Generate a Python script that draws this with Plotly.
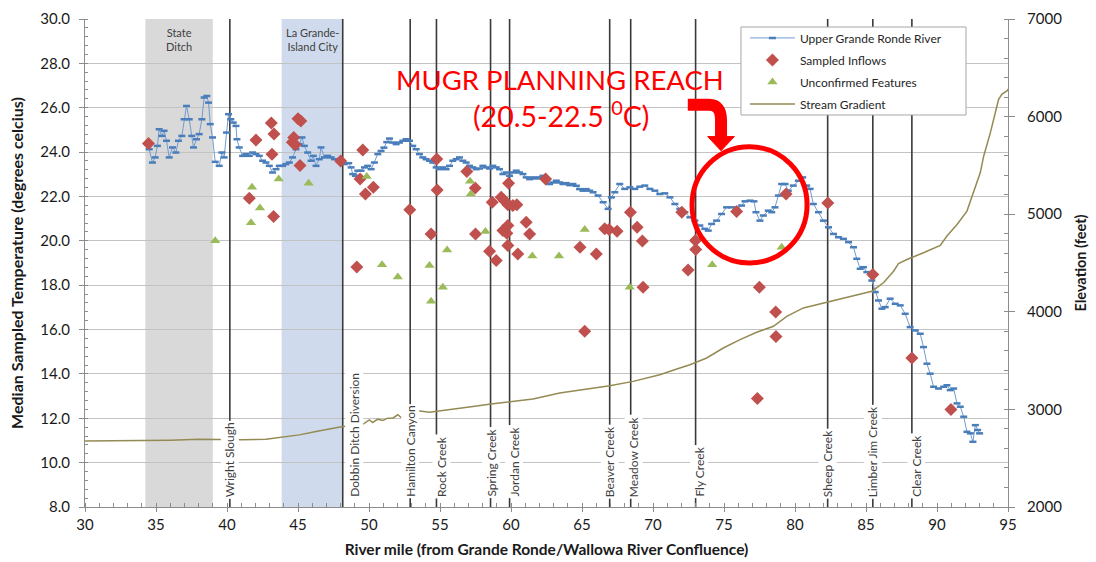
import plotly.graph_objects as go

# ---------------- data ----------------
river_mile = [34.52, 34.75, 34.94, 35.10, 35.22, 35.41, 35.57, 35.74, 35.93, 36.16, 36.40, 36.58, 36.82, 36.98,
              37.15, 37.34, 37.52, 37.64, 37.85, 38.04, 38.23, 38.39, 38.58, 38.70, 38.82, 38.98, 39.17, 39.45,
              39.64, 39.80, 39.97, 40.11, 40.27, 40.44, 40.63, 40.70, 40.86, 41.10, 41.33, 41.57, 41.80, 42.04,
              42.27, 42.51, 42.74, 42.98, 43.21, 43.45, 43.68, 43.92, 44.15, 44.39, 44.62, 44.86, 45.09, 45.28,
              45.45, 45.68, 45.92, 46.08, 46.27, 46.50, 46.62, 46.86, 47.09, 47.33, 47.56, 47.91, 48.27, 48.57,
              48.74, 48.85, 49.04, 49.21, 49.44, 49.68, 49.91, 50.15, 50.38, 50.62, 50.85, 51.05, 51.25, 51.44,
              51.67, 51.91, 52.14, 52.38, 52.61, 52.85, 53.08, 53.32, 53.55, 53.79, 54.02, 54.26, 54.49, 54.73,
              54.96, 55.20, 55.43, 55.67, 55.90, 56.14, 56.37, 56.61, 56.84, 57.08, 57.31, 57.55, 57.78, 58.02,
              58.25, 58.49, 58.72, 58.96, 59.19, 59.43, 59.66, 59.90, 60.13, 60.37, 60.60, 60.84, 61.07, 61.31,
              61.54, 61.78, 62.01, 62.25, 62.48, 62.72, 62.95, 63.19, 63.42, 63.66, 63.89, 64.13, 64.36, 64.60,
              64.83, 65.07, 65.30, 65.54, 65.78, 66.13, 66.49, 66.84, 67.07, 67.31, 67.66, 68.01, 68.37, 68.72,
              69.07, 69.42, 69.78, 70.13, 70.48, 70.83, 71.19, 71.54, 71.89, 72.24, 72.60, 72.95, 73.30, 73.65,
              73.89, 74.13, 74.48, 74.83, 75.18, 75.54, 75.89, 76.24, 76.48, 76.83, 77.11, 77.25, 77.53, 77.77,
              78.12, 78.36, 78.59, 78.83, 79.06, 79.30, 79.53, 79.88, 80.24, 80.54, 80.82, 81.06, 81.29, 81.65,
              82.00, 82.36, 82.71, 83.06, 83.41, 83.77, 84.12, 84.35, 84.59, 84.82, 85.06, 85.41, 85.65, 85.88,
              86.12, 86.35, 86.70, 87.06, 87.41, 87.76, 88.11, 88.47, 88.82, 89.05, 89.29, 89.52, 89.76, 90.11,
              90.47, 90.70, 90.93, 91.17, 91.41, 91.64, 91.88, 92.11, 92.35, 92.53, 92.70, 92.86, 93.00]
river_temp = [24.13, 23.53, 23.76, 24.28, 25.03, 24.73, 24.96, 24.51, 23.76, 24.21, 23.98, 24.51, 24.73, 25.48,
              26.08, 25.48, 24.73, 24.21, 24.58, 24.81, 25.48, 26.46, 26.53, 26.23, 25.26, 24.66, 23.56, 23.38,
              23.98, 23.76, 24.88, 25.71, 25.48, 25.33, 25.18, 24.58, 24.21, 23.83, 23.91, 23.83, 23.98, 23.91,
              23.83, 23.61, 23.53, 23.38, 23.08, 23.23, 23.38, 23.38, 23.46, 23.53, 23.76, 24.13, 24.36, 24.66,
              24.28, 23.98, 23.61, 23.83, 23.38, 23.68, 24.21, 23.76, 23.83, 23.76, 23.68, 23.56, 23.46, 23.50,
              23.31, 23.01, 22.93, 23.16, 23.16, 23.31, 23.38, 23.23, 23.53, 23.91, 24.05, 24.20, 24.45, 24.61,
              24.43, 24.36, 24.43, 24.51, 24.58, 24.51, 24.28, 24.13, 23.91, 23.76, 23.68, 23.61, 23.53, 23.31,
              23.23, 23.31, 23.23, 23.38, 23.61, 23.68, 23.76, 23.61, 23.53, 23.38, 23.31, 23.23, 23.26, 23.38,
              23.31, 23.26, 23.38, 23.31, 23.23, 23.01, 23.08, 22.93, 23.08, 23.16, 23.08, 23.01, 22.86, 22.78,
              22.86, 22.81, 22.86, 22.93, 22.78, 22.56, 22.63, 22.71, 22.63, 22.56, 22.60, 22.51, 22.56, 22.48,
              22.33, 22.26, 22.33, 22.26, 22.19, 22.04, 21.74, 21.44, 21.96, 22.19, 22.56, 22.34, 22.41, 22.34,
              22.44, 22.49, 22.34, 22.26, 22.11, 22.14, 21.96, 21.66, 21.44, 21.29, 21.06, 20.91, 20.69, 20.54,
              20.46, 20.76, 20.91, 21.21, 21.51, 21.51, 21.44, 21.59, 21.78, 21.81, 21.78, 21.29, 20.91, 21.14,
              21.36, 21.29, 21.51, 22.04, 22.56, 22.56, 22.26, 22.49, 22.71, 22.86, 22.49, 22.34, 21.66, 21.29,
              20.91, 20.61, 20.31, 20.16, 20.09, 19.94, 19.71, 19.19, 18.74, 18.81, 18.59, 18.21, 17.69, 17.31,
              16.94, 17.01, 17.39, 17.16, 17.09, 16.71, 16.11, 15.96, 15.81, 15.21, 14.46, 14.01, 13.42, 13.34,
              13.42, 13.49, 13.27, 13.34, 12.67, 12.52, 12.07, 11.39, 11.32, 10.94, 11.69, 11.47, 11.32]

inflow_mile = [34.47, 42.04, 43.12, 43.31, 43.17, 41.57, 43.28, 45.00, 45.20, 44.70, 44.81, 44.60, 45.14, 48.00,
               49.56, 49.37, 49.75, 50.31, 49.14, 52.87, 54.77, 54.80, 54.37, 56.89, 57.48, 58.68, 57.50, 59.31,
               59.54, 59.78, 60.13, 60.41, 59.83, 58.49, 58.96, 59.43, 59.71, 59.78, 59.78, 61.07, 61.31, 60.48,
               62.44, 64.86, 65.19, 66.01, 66.60, 66.90, 67.47, 68.41, 68.88, 69.25, 69.30, 72.03, 72.99, 73.01,
               72.47, 75.89, 79.37, 82.31, 77.49, 78.64, 78.66, 77.35, 85.48, 88.23, 90.98]
inflow_temp = [24.39, 24.54, 25.31, 24.81, 23.90, 21.92, 21.10, 25.50, 25.40, 24.66, 24.33, 24.44, 23.40, 23.60,
               24.09, 22.79, 22.11, 22.41, 18.82, 21.40, 23.69, 22.29, 20.31, 23.12, 22.38, 21.74, 20.31, 21.96,
               21.81, 21.63, 21.59, 21.63, 22.59, 19.53, 19.11, 20.46, 20.34, 20.69, 19.79, 20.84, 20.31, 19.41,
               22.79, 19.71, 15.92, 19.41, 20.54, 20.51, 20.43, 21.29, 20.61, 19.99, 17.91, 21.29, 20.01, 19.61,
               18.69, 21.32, 22.11, 21.71, 17.91, 16.79, 15.69, 12.89, 18.48, 14.72, 12.40]

feature_mile = [39.17, 41.76, 42.32, 41.69, 43.64, 45.75, 49.84, 50.92, 52.03, 57.12, 57.17, 58.20, 55.50,
                54.26, 55.20, 54.37, 61.50, 63.38, 65.19, 68.36, 74.17, 79.06]
feature_temp = [20.00, 22.41, 21.48, 20.81, 22.79, 22.59, 22.90, 18.92, 18.37, 22.68, 22.11, 20.42, 19.59,
                18.89, 17.91, 17.28, 19.31, 19.31, 20.51, 17.91, 18.92, 19.71]

gradient_mile = [30.0, 33.0, 36.0, 38.04, 41.10, 42.74, 43.92, 45.09, 46.27, 47.44, 48.15, 49.51, 50.03, 50.26,
                 50.62, 50.97, 51.32, 51.67, 52.03, 52.26, 53.44, 54.26, 55.67, 57.32, 58.73, 59.90, 61.55, 63.43,
                 65.07, 66.95, 68.60, 70.48, 71.89, 72.60, 73.78, 74.95, 76.13, 77.30, 78.48, 79.42, 80.59, 82.00,
                 83.88, 85.41, 86.23, 86.94, 87.29, 87.88, 89.05, 90.23, 90.70, 91.41, 92.11, 92.46, 93.05, 93.29,
                 93.76, 94.11, 94.34, 94.58, 94.93, 95.10]
gradient_elev = [2675, 2678, 2685, 2693, 2688, 2695, 2715, 2739, 2774, 2801, 2825, 2842, 2893, 2866,
                 2900, 2887, 2910, 2910, 2945, 2917, 2986, 2972, 2996, 3030, 3058, 3075, 3106, 3167,
                 3201, 3242, 3287, 3355, 3424, 3458, 3527, 3629, 3715, 3790, 3852, 3954, 4040, 4091,
                 4160, 4211, 4297, 4416, 4495, 4536, 4605, 4680, 4776, 4895, 5032, 5186, 5426, 5597,
                 5836, 6042, 6178, 6230, 6264, 6298]

creek_names = ["Wright Slough", "Dobbin Ditch Diversion", "Hamilton Canyon", "Rock Creek", "Spring Creek",
               "Jordan Creek", "Beaver Creek", "Meadow Creek", "Fly Creek", "Sheep Creek", "Limber Jim Creek",
               "Clear Creek"]
creek_mile = [40.2, 48.15, 52.9, 54.75, 58.56, 59.9, 66.95, 68.43, 73.0, 82.3, 85.48, 88.23]

band_names = ["State<br>Ditch", "La Grande-<br>Island City"]
band_start = [34.25, 43.85]
band_end = [39.0, 48.15]

x_ticks = list(range(30, 96, 5))
temp_ticks = [8, 10, 12, 14, 16, 18, 20, 22, 24, 26, 28, 30]
elev_ticks = [2000, 3000, 4000, 5000, 6000, 7000]

# ---------------- styling ----------------
FONT = "Lato, 'Open Sans', sans-serif"
label_shift = {"Dobbin Ditch Diversion": 11, "Rock Creek": 5, "Jordan Creek": 4, "Clear Creek": 4,
               "Fly Creek": 3, "Meadow Creek": 3}
band_colors = ["#d9d9d9", "#cfdbec"]

fig = go.Figure()

# vertical creek lines
vx, vy = [], []
for m in creek_mile:
    vx += [m, m, None]
    vy += [temp_ticks[0], temp_ticks[-1], None]
fig.add_trace(go.Scatter(x=vx, y=vy, mode="lines", line=dict(color="#3a3a3a", width=1.6),
                         showlegend=False, hoverinfo="skip"))

fig.add_trace(go.Scatter(x=river_mile, y=river_temp, name="Upper Grande Ronde River", mode="lines+markers",
                         line=dict(color="#6f9bd1", width=1),
                         marker=dict(symbol="line-ew", size=5, color="#4a7ebb",
                                     line=dict(color="#4a7ebb", width=2.5)),
                         legendgroup="a", legendrank=1))
fig.add_trace(go.Scatter(x=inflow_mile, y=inflow_temp, name="Sampled Inflows", mode="markers",
                         marker=dict(symbol="diamond", size=10, color="#c0504d"),
                         legendgroup="b", legendrank=2))
fig.add_trace(go.Scatter(x=feature_mile, y=feature_temp, name="Unconfirmed Features", mode="markers",
                         marker=dict(symbol="triangle-up", size=9, color="#9bbb59"),
                         legendgroup="c", legendrank=3))
fig.add_trace(go.Scatter(x=gradient_mile, y=gradient_elev, name="Stream Gradient", mode="lines",
                         line=dict(color="#948a54", width=1.5), yaxis="y2",
                         legendgroup="d", legendrank=4))

shapes = []
for s, e, c in zip(band_start, band_end, band_colors):
    shapes.append(dict(type="rect", xref="x", yref="y", x0=s, x1=e, y0=temp_ticks[0], y1=temp_ticks[-1],
                       fillcolor=c, line=dict(width=0), layer="below"))

# legend frame
shapes.append(dict(type="rect", xref="paper", yref="paper", x0=0.7107, x1=0.9545, y0=0.8033, y1=0.9836,
                   fillcolor="white", line=dict(color="#a6a6a6", width=1), layer="above"))

# MUGR planning reach circle and arrow
shapes.append(dict(type="circle", xref="x", yref="y", x0=72.75, x1=80.85, y0=19.0, y1=24.24,
                   line=dict(color="#ff0000", width=5), layer="above"))
shapes.append(dict(type="path", xref="x", yref="y",
                   path="M 72.45,26.13 L 73.95,26.13 Q 74.79,26.13 74.79,25.45 L 74.79,24.62",
                   line=dict(color="#ff0000", width=12), layer="above"))
shapes.append(dict(type="path", xref="x", yref="y",
                   path="M 73.85,24.70 L 75.73,24.70 L 74.79,24.06 Z",
                   fillcolor="#ff0000", line=dict(color="#ff0000", width=1), layer="above"))

annotations = []
for name, m in zip(creek_names, creek_mile):
    annotations.append(dict(x=m, y=temp_ticks[0], xref="x", yref="y", text=name, textangle=-90,
                            showarrow=False, xanchor="center", yanchor="bottom", yshift=8,
                            xshift=label_shift.get(name, 0), bgcolor="white", borderpad=1,
                            font=dict(family=FONT, size=12, color="#404040")))
for name, s, e in zip(band_names, band_start, band_end):
    annotations.append(dict(x=(s + e) / 2, y=1, xref="x", yref="paper", text=name, showarrow=False,
                            xanchor="center", yanchor="top", yshift=-5,
                            font=dict(family=FONT, size=11, color="#404040")))
annotations.append(dict(x=0.5146, y=0.877, xref="paper", yref="paper", text="MUGR PLANNING REACH",
                        showarrow=False, xanchor="center", yanchor="middle",
                        font=dict(family=FONT, size=27.5, color="#ff0000")))
annotations.append(dict(x=0.5157, y=0.805, xref="paper", yref="paper", text="(20.5-22.5 <sup>0</sup>C)",
                        showarrow=False, xanchor="center", yanchor="middle",
                        font=dict(family=FONT, size=28.5, color="#ff0000")))

axis_col = "#8c8c8c"
tick_font = dict(family=FONT, size=15, color="#1a1a1a")
fig.update_layout(
    width=1096, height=562,
    margin=dict(l=85, r=88, t=19, b=55),
    paper_bgcolor="white", plot_bgcolor="white",
    font=dict(family=FONT, color="#1a1a1a"),
    shapes=shapes, annotations=annotations,
    showlegend=True,
    legend=dict(x=0.715, y=0.991, xanchor="left", yanchor="top", bgcolor="rgba(0,0,0,0)",
                borderwidth=0, font=dict(family=FONT, size=12, color="#262626"),
                tracegroupgap=3, itemwidth=45, traceorder="grouped"),
    xaxis=dict(range=[30, 95], tickvals=x_ticks, showgrid=False, zeroline=False, automargin=False,
               showline=True, linecolor=axis_col, linewidth=1.2, ticks="outside", ticklen=4,
               tickcolor=axis_col, tickfont=tick_font,
               minor=dict(dtick=1, ticks="inside", ticklen=4, tickcolor=axis_col, showgrid=False),
               title=dict(text="<b>River mile (from Grande Ronde/Wallowa River Confluence)</b>",
                          font=dict(family=FONT, size=15.5, color="#1a1a1a"), standoff=12)),
    yaxis=dict(range=[8, 30], tickvals=temp_ticks, tickformat=".1f", showgrid=True, gridcolor="#c3c3c3",
               gridwidth=1.3, zeroline=False, automargin=False, showline=True, linecolor=axis_col,
               linewidth=1.2, ticks="outside", ticklen=5, tickcolor=axis_col, tickfont=tick_font,
               ticklabelstandoff=6,
               minor=dict(dtick=0.4, ticks="inside", ticklen=3, tickcolor=axis_col, showgrid=False),
               title=dict(text="<b>Median Sampled Temperature (degrees celcius)</b>",
                          font=dict(family=FONT, size=16, color="#1a1a1a"), standoff=12)),
    yaxis2=dict(range=[2000, 7000], tickvals=elev_ticks, overlaying="y", side="right", showgrid=False,
                zeroline=False, automargin=False, showline=True, linecolor=axis_col, linewidth=1.2,
                ticks="outside", ticklen=6, tickcolor=axis_col, tickfont=tick_font, ticklabelstandoff=9,
                minor=dict(dtick=200, ticks="inside", ticklen=4, tickcolor=axis_col, showgrid=False),
                title=dict(text="<b>Elevation (feet)</b>", font=dict(family=FONT, size=14.5, color="#1a1a1a"),
                           standoff=14)),
)

fig.write_html("out.html", config={"displayModeBar": False},
               post_script="document.body.style.margin='0px';")
